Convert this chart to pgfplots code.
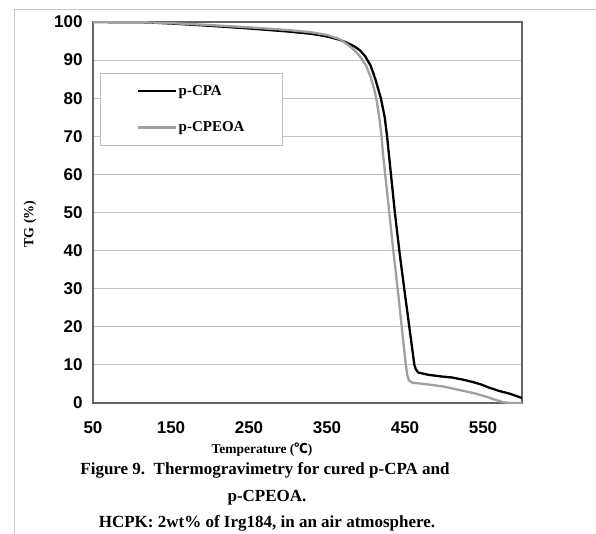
\documentclass[border=0pt]{standalone}
\usepackage{pgfplots}
\pgfplotsset{compat=1.18}
\usepackage{fontspec}
\setmainfont{Liberation Serif}
\setsansfont{Liberation Sans}
\newfontfamily\cjk{Noto Sans CJK SC}
\definecolor{curvegray}{RGB}{160,160,160}
\definecolor{gridgray}{RGB}{195,195,195}
\definecolor{framegray}{RGB}{200,200,200}
\definecolor{axisgray}{RGB}{100,100,100}
\begin{document}
\begin{tikzpicture}
\useasboundingbox (0,0) rectangle (596pt,-534pt);
\fill[white] (0,0) rectangle (596pt,-534pt);
\draw[framegray, line width=1pt] (14pt,-534pt) -- (14pt,-10pt) -- (596pt,-10pt);
\begin{axis}[
  at={(93pt,-403pt)}, anchor=south west,
  scale only axis, width=429pt, height=381pt,
  xmin=50, xmax=600, ymin=0, ymax=100,
  xtick={50,150,...,550}, ytick={0,10,...,100},
  major tick length=0pt,
  ymajorgrids, grid style={gridgray, line width=0.9pt},
  axis line style={axisgray, line width=1.5pt},
  /pgf/number format/assume math mode=true,
  tick label style={font=\sffamily\bfseries\fontsize{17}{17}\selectfont},
  yticklabel style={xshift=-7pt},
  xticklabel style={yshift=-15pt},
  xlabel={Temperature ({\cjk ℃})},
  ylabel={TG (\%)},
  xlabel style={at={(axis description cs:0.394,-0.1234)}, anchor=center, font=\bfseries\fontsize{13.5}{13.5}\selectfont},
  ylabel style={at={(axis description cs:-0.147,0.47)}, anchor=center, font=\bfseries\fontsize{14}{14}\selectfont},
  legend style={at={(0.0163,0.866)}, anchor=north west, draw=gray!50, line width=0.8pt,
    inner xsep=36pt, inner ysep=10pt, row sep=21pt,
    font=\bfseries\fontsize{15}{15}\selectfont},
  legend cell align=left,
  legend image code/.code={\draw[#1] (0pt,0pt) -- (38pt,0pt);},
]
\addplot[black, line width=2.3pt, line join=round] coordinates {
(50,100) (120,99.9) (150,99.6) (200,99.0) (250,98.3) (300,97.5) (330,96.9)
(350,96.2) (365,95.4) (375,94.6) (385,93.6) (392,92.6) (399,91) (406,88.5)
(412,85) (419,80) (424,75) (427,70) (429,66) (432,60) (437,50)
(442.7,40) (449,30) (455.5,20) (462,10) (464,8.8) (467,8.0) (480,7.4)
(495,7.0) (510,6.7) (525,6.1) (537,5.5) (547,4.9) (557,4.1) (570,3.2)
(585,2.4) (600,1.3)
};
\addlegendentry{p-CPA}
\addplot[curvegray, line width=2.3pt, line join=round] coordinates {
(50,100) (120,99.9) (150,99.7) (200,99.2) (250,98.6) (300,97.9) (330,97.3)
(350,96.6) (365,95.6) (375,94.3) (383,93) (390,91.5) (395,90.2) (400,88.6)
(406,85.5) (411,82) (414,79) (417,75) (420,70) (421.5,66) (424.6,60) (429.8,50)
(435,40) (440.6,30) (445.8,20) (451,10) (453,7.3) (455,5.9) (460,5.3)
(470,5.1) (486,4.7) (500,4.3) (520,3.4) (540,2.5) (555,1.6) (565,0.9)
(576,0.2) (585,0) (600,0)
};
\addlegendentry{p-CPEOA}
\end{axis}
\node[font=\bfseries\fontsize{17}{17}\selectfont] at (265pt,-470pt) {Figure 9.\ \ Thermogravimetry for cured p-CPA and};
\node[font=\bfseries\fontsize{17}{17}\selectfont] at (267pt,-498pt) {p-CPEOA.};
\node[font=\bfseries\fontsize{17}{17}\selectfont] at (267pt,-523pt) {HCPK: 2wt\% of Irg184, in an air atmosphere.};
\end{tikzpicture}
\end{document}
